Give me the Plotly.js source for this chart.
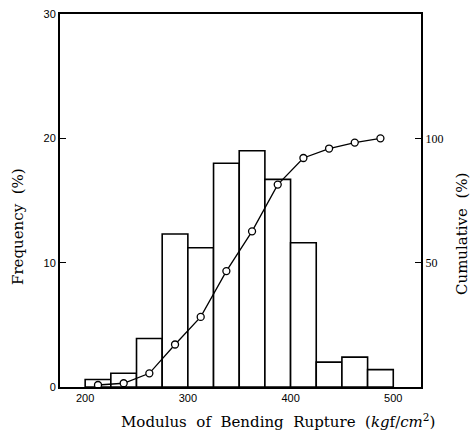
<!DOCTYPE html>
<html>
<head>
<meta charset="utf-8">
<script src="https://cdn.plot.ly/plotly-3.0.1.min.js"></script>
<style>html,body{margin:0;padding:0;background:#fff;}#chart{width:475px;height:435px;}</style>
</head>
<body>
<div id="chart"></div>
<script>
// Bin centers of modulus of bending rupture (kgf/cm2), bin width 25
var binCenters = [212.5, 237.5, 262.5, 287.5, 312.5, 337.5, 362.5, 387.5, 412.5, 437.5, 462.5, 487.5];
// Frequency (%)
var frequency = [0.6, 1.1, 3.9, 12.3, 11.2, 18.0, 19.0, 16.7, 11.6, 2.0, 2.4, 1.4];
// Cumulative (%)
var cumulative = [0.8, 1.5, 5.5, 17.1, 28.2, 46.6, 62.6, 81.4, 92.1, 95.9, 98.3, 100];
var xTicks = [200, 300, 400, 500];
var leftTicks = [0, 10, 20, 30];
var rightTicks = [50, 100];

var traces = [
  {
    type: 'bar', x: binCenters, y: frequency, width: 25,
    marker: {color: '#ffffff', line: {color: '#000000', width: 1.6}},
    hoverinfo: 'skip', showlegend: false
  },
  {
    type: 'scatter', mode: 'lines+markers', x: binCenters, y: cumulative, yaxis: 'y2',
    line: {color: '#000000', width: 1.3},
    marker: {symbol: 'circle', size: 7, color: '#ffffff', line: {color: '#000000', width: 1.3}},
    showlegend: false
  }
];

var tickFont = {family: 'Liberation Sans, Arial, sans-serif', size: 11, color: '#000'};
var titleFont = {family: 'DejaVu Serif, Liberation Serif, serif', size: 15, color: '#000'};
var sp = '&nbsp; ';

var layout = {
  width: 475, height: 435,
  margin: {l: 60, r: 54, t: 14, b: 48, pad: 0},
  paper_bgcolor: '#ffffff', plot_bgcolor: '#ffffff',
  bargap: 0,
  xaxis: {
    range: [175.5, 527], tickvals: xTicks, ticktext: xTicks.map(String),
    ticks: '', showgrid: false, zeroline: false,
    showline: true, linecolor: '#000', linewidth: 2, mirror: true,
    tickfont: tickFont
  },
  yaxis: {
    range: [0, 30], tickvals: leftTicks, ticktext: leftTicks.map(String),
    ticks: 'inside', ticklen: 6, tickwidth: 1.5, tickcolor: '#000',
    showgrid: false, zeroline: false,
    showline: true, linecolor: '#000', linewidth: 2,
    tickfont: tickFont
  },
  yaxis2: {
    overlaying: 'y', side: 'right', range: [0, 150],
    tickvals: rightTicks, ticktext: rightTicks.map(String),
    ticks: 'inside', ticklen: 6, tickwidth: 1.5, tickcolor: '#000',
    showgrid: false, zeroline: false,
    showline: true, linecolor: '#000', linewidth: 2,
    tickfont: {family: 'Liberation Serif, serif', size: 12, color: '#000'}
  },
  annotations: [
    {text: 'Modulus' + sp + 'of' + sp + 'Bending' + sp + 'Rupture' + sp + '(<i>kg</i>f/<i>cm</i><sup>2</sup>)',
     xref: 'paper', yref: 'paper',
     x: (278 - 60) / 361, xanchor: 'center', y: 0, yanchor: 'top', yshift: -22,
     showarrow: false, font: titleFont},
    {text: 'Frequency' + sp + '(%)', xref: 'paper', yref: 'paper', x: 0, xanchor: 'center', xshift: -42,
     y: 1 - (227 - 14) / 373, yanchor: 'middle', textangle: -90, showarrow: false, font: titleFont},
    {text: 'Cumulative' + sp + '(%)', xref: 'paper', yref: 'paper', x: 1, xanchor: 'center', xshift: 41,
     y: 1 - (234 - 14) / 373, yanchor: 'middle', textangle: -90, showarrow: false, font: titleFont}
  ]
};

Plotly.newPlot('chart', traces, layout, {staticPlot: true, displayModeBar: false});
</script>
</body>
</html>
